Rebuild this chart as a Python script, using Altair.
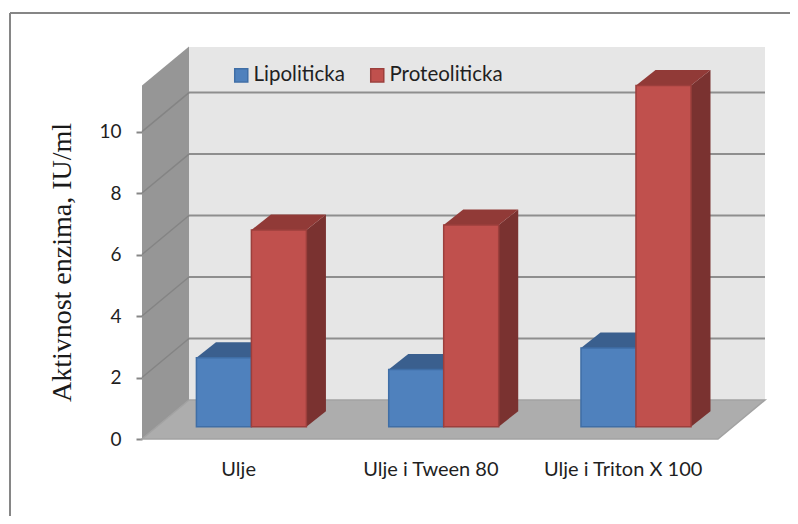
import json
import altair as alt
import pandas as pd

categories = ["Ulje", "Ulje i Tween 80", "Ulje i Triton X 100"]
series_names = ["Lipoliticka", "Proteoliticka"]
lipoliticka = [2.24, 1.86, 2.56]
proteoliticka = [6.4, 6.56, 11.1]
y_ticks = [0, 2, 4, 6, 8, 10]

FILL = ["#4f81bd", "#c0504d"]
EDGE = ["#3f6ea6", "#9c3f3c"]
TOP = ["#3a5f8e", "#913a37"]
SIDE = ["#3a5f8e", "#7a3230"]

# projection of the pseudo-3D box, in axis units
X_MAX, Y_MAX = 3.24, 12.75
WALL_DX, WALL_DY = 0.2445, 1.268
WALL_TOP = 11.5
BAR_X0, BAR_W, BAR_BASE = 0.283, 0.286, 0.40
BAR_DX, BAR_DY = 0.1016, 0.503

xs = alt.Scale(domain=[0, X_MAX], nice=False, zero=False)
ys = alt.Scale(domain=[0, Y_MAX], nice=False, zero=False)
X = lambda f="x": alt.X(f"{f}:Q", scale=xs, axis=None, title=None, stack=None)
Y = lambda f="y": alt.Y(f"{f}:Q", scale=ys, axis=None, title=None, stack=None)

label_expr = f"{json.dumps(categories)}[floor(datum.value)]"

# axes + back wall
axes_df = pd.DataFrame({"x": [WALL_DX], "x2": [X_MAX], "y": [WALL_DY], "y2": [Y_MAX]})
back = alt.Chart(axes_df).mark_rect(fill="#e6e6e6").encode(
    x=alt.X("x:Q", scale=xs, title=None, axis=alt.Axis(
        values=[0.5, 1.5, 2.5], labelExpr=label_expr, domain=False, ticks=False, grid=False,
        labelFont="Lato", labelFontSize=20, labelColor="#1f1f1f", labelPadding=20,
        labelOverlap=False, labelFlush=False)),
    x2="x2:Q",
    y=alt.Y("y:Q", scale=ys, title="Aktivnost enzima, IU/ml", axis=alt.Axis(
        values=y_ticks, domain=False, grid=False, tickSize=6, tickColor="#868686", tickWidth=2,
        labelFont="Lato", labelFontSize=19, labelColor="#1f1f1f", labelPadding=15,
        titleFont="Liberation Serif", titleFontSize=28, titleFontWeight="normal",
        titleColor="#1a1a1a", titleX=-80, titleY=215, titleAngle=270, titleAlign="center",
        titleBaseline="middle")),
    y2="y2:Q",
)

# left wall
left_df = pd.DataFrame({"x": [0, WALL_DX], "y": [0, WALL_DY], "y2": [WALL_TOP, WALL_TOP + WALL_DY]})
left = alt.Chart(left_df).mark_area(color="#969696").encode(x=X(), y=Y(), y2="y2:Q")

# floor
floor_df = pd.DataFrame({"y": [0, WALL_DY], "x": [0, WALL_DX], "x2": [X_MAX - WALL_DX, X_MAX]})
floor = alt.Chart(floor_df).mark_area(orient="horizontal", color="#adadad", stroke="#a2a2a2", strokeWidth=1.5).encode(
    y=Y(), x=X(), x2="x2:Q")

# gridlines
back_grid_df = pd.DataFrame({"x": WALL_DX, "x2": X_MAX, "y": [t + WALL_DY for t in y_ticks[1:]]})
back_grid = alt.Chart(back_grid_df).mark_rule(color="#8e8e8e", strokeWidth=2).encode(x=X(), x2="x2:Q", y=Y())

slant_rows = []
for t in y_ticks[1:]:
    slant_rows += [{"t": t, "x": 0, "y": t}, {"t": t, "x": WALL_DX, "y": t + WALL_DY}]
slant = alt.Chart(pd.DataFrame(slant_rows)).mark_line(color="#848484", strokeWidth=1.5).encode(
    x=X(), y=Y(), detail="t:N")

# bars
layers_3d = []
front_rows = []
for s, values in enumerate([lipoliticka, proteoliticka]):
    side_rows, top_rows = [], []
    for g, v in enumerate(values):
        x0 = g + BAR_X0 + s * BAR_W
        x1 = x0 + BAR_W
        top = BAR_BASE + v
        front_rows.append({"series": series_names[s], "x": x0, "x2": x1, "y": BAR_BASE, "y2": top})
        side_rows += [
            {"g": g, "x": x1, "y": BAR_BASE, "y2": top},
            {"g": g, "x": x1 + BAR_DX, "y": BAR_BASE + BAR_DY, "y2": top + BAR_DY},
        ]
        top_rows += [
            {"g": g, "y": top, "x": x0, "x2": x1},
            {"g": g, "y": top + BAR_DY, "x": x0 + BAR_DX, "x2": x1 + BAR_DX},
        ]
    layers_3d.append(alt.Chart(pd.DataFrame(side_rows)).mark_area(color=SIDE[s]).encode(
        x=X(), y=Y(), y2="y2:Q", detail="g:N"))
    layers_3d.append(alt.Chart(pd.DataFrame(top_rows)).mark_area(orient="horizontal", color=TOP[s]).encode(
        y=Y(), x=X(), x2="x2:Q", detail="g:N"))

legend = alt.Legend(
    title=None, orient="none", legendX=89, legendY=18, direction="horizontal",
    symbolType="square", symbolSize=170, symbolStrokeWidth=1.5, symbolOpacity=1,
    labelFont="Lato", labelFontSize=20.5, labelColor="#1f1f1f", labelOffset=2, columnPadding=22,
    padding=0,
)
fronts = alt.Chart(pd.DataFrame(front_rows)).mark_rect(strokeWidth=1.5).encode(
    x=X(), x2="x2:Q", y=Y(), y2="y2:Q",
    fill=alt.Fill("series:N", scale=alt.Scale(domain=series_names, range=FILL), legend=legend),
    stroke=alt.Stroke("series:N", scale=alt.Scale(domain=series_names, range=EDGE), legend=legend),
)

# outer chart frame
frame_top = alt.Chart(pd.DataFrame({"a": [0]})).mark_rule(color="#868686", strokeWidth=2).encode(
    x=alt.value(-132), x2=alt.value(648), y=alt.value(-34))
frame_left = alt.Chart(pd.DataFrame({"a": [0]})).mark_rule(color="#868686", strokeWidth=2).encode(
    x=alt.value(-132), y=alt.value(-34), y2=alt.value(469))

chart = alt.layer(
    back, back_grid, left, slant, floor, *layers_3d, fronts, frame_top, frame_left
).resolve_axis(x="independent", y="independent").properties(
    width=623, height=392,
    padding={"left": 134, "top": 39, "right": 25, "bottom": 77},
    autosize=alt.AutoSizeParams(type="none"),
    background="white",
).configure_view(stroke=None)

chart.save("out.html", embed_options={"renderer": "svg", "actions": False})
